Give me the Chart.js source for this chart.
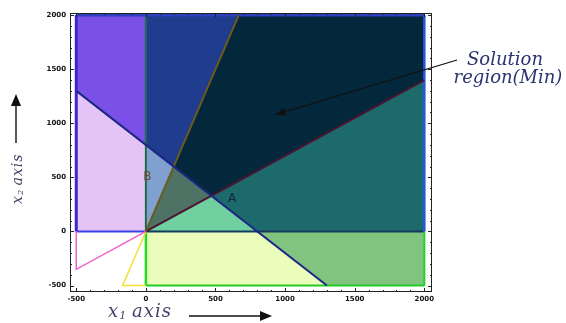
<!DOCTYPE html>
<html>
<head>
<meta charset="utf-8">
<script src="https://cdn.jsdelivr.net/npm/chart.js@4.4.1/dist/chart.umd.min.js"></script>
<style>
  html, body { margin: 0; padding: 0; background: #fff; }
  #wrap { width: 566px; height: 323px; }
</style>
</head>
<body>
<div id="wrap"><canvas id="chart" width="566" height="323"></canvas></div>
<script>
// ── Data ──────────────────────────────────────
const xTicks = [-500, 0, 500, 1000, 1500, 2000];
const yTicks = [-500, 0, 500, 1000, 1500, 2000];

// region polygons (x1, x2)
const regionPurple   = [[-500, 1300], [-500, 2000], [0, 2000], [0, 800]];
const regionLavender = [[-500, 0], [-500, 1300], [0, 800], [0, 0]];
const regionBlue     = [[0, 800], [0, 2000], [667, 2000], [200, 600]];
const regionSteel    = [[0, 0], [0, 800], [200, 600]];
const regionSolution = [[200, 600], [667, 2000], [2000, 2000], [2000, 1400], [470, 329]];
const regionGrey     = [[0, 0], [200, 600], [470, 329]];
const regionTeal     = [[470, 329], [2000, 1400], [2000, 0], [800, 0]];
const regionMint     = [[0, 0], [470, 329], [800, 0]];
const regionYellow   = [[0, 0], [800, 0], [1300, -500], [0, -500]];
const regionGreen    = [[800, 0], [2000, 0], [2000, -500], [1300, -500]];

// constraint lines
const lineSum    = [[-500, 1300], [1300, -500]];      // x1 + x2 = 800
const lineSteep  = [[0, 0], [667, 2000]];             // x2 = 3 x1
const lineFlat   = [[0, 0], [2000, 1400]];            // x2 = 0.7 x1
const linePink   = [[-500, 0], [-500, -350], [0, 0]];
const lineYellow = [[0, 0], [-167, -500], [0, -500]];

// boundary edges
const edgeTop      = [[-500, 2000], [2000, 2000]];
const edgeLeft     = [[-500, 0], [-500, 2000]];
const edgeRightUp  = [[2000, 0], [2000, 2000]];
const edgeRightLow = [[2000, -500], [2000, 0]];
const edgeAxisUp   = [[0, 0], [0, 2000]];
const edgeAxisLow  = [[0, -500], [0, 0]];
const edgeZeroL    = [[-500, 0], [0, 0]];
const edgeZeroR    = [[0, 0], [2000, 0]];
const edgeBottom   = [[0, -500], [2000, -500]];

const pointA = [620, 300];
const pointB = [10, 505];
const arrowTail = [2235, 1585];
const arrowTip  = [925, 1078];

// ── Helpers ───────────────────────────────────
const pts = arr => arr.map(p => ({ x: p[0], y: p[1] }));

function region(data, color) {
  return {
    data: pts(data.concat([data[0]])),
    showLine: true, fill: 'shape',
    backgroundColor: color, borderColor: color, borderWidth: 0.6,
    pointRadius: 0, clip: false
  };
}
function seg(data, color, width) {
  return {
    data: pts(data), showLine: true, fill: false,
    borderColor: color, borderWidth: width,
    pointRadius: 0, clip: false
  };
}

// draw "x<sub>n</sub> axis" as real text pieces
function axisTitle(ctx, sub, x0, y0, size) {
  const main = `italic ${size}px "DejaVu Serif"`;
  ctx.font = main;
  ctx.fillText('x', x0, y0);
  let cx = x0 + ctx.measureText('x').width + 1;
  ctx.font = `italic ${Math.round(size * 0.6)}px "DejaVu Serif"`;
  ctx.fillText(sub, cx, y0 + size * 0.22);
  cx += ctx.measureText(sub).width + size * 0.33;
  ctx.font = main;
  ctx.letterSpacing = '1px';
  ctx.fillText('axis', cx, y0);
  ctx.letterSpacing = '0px';
}

// ── Frame, ticks and labels ───────────────────
const framePlugin = {
  id: 'frame',
  afterDraw(chart) {
    const { ctx, chartArea: a, scales: { x, y } } = chart;
    ctx.save();
    ctx.strokeStyle = '#222';
    ctx.lineWidth = 1;
    ctx.strokeRect(a.left + 0.5, a.top + 0.5, a.right - a.left - 1, a.bottom - a.top - 1);

    ctx.beginPath();
    for (let v = -500; v <= 2000; v += 100) {
      const len = v % 500 === 0 ? 4 : 2;
      const px = Math.round(x.getPixelForValue(v)) + 0.5;
      ctx.moveTo(px, a.bottom); ctx.lineTo(px, a.bottom - len);
      ctx.moveTo(px, a.top); ctx.lineTo(px, a.top + len);
      const py = Math.round(y.getPixelForValue(v)) + 0.5;
      ctx.moveTo(a.left, py); ctx.lineTo(a.left + len, py);
      ctx.moveTo(a.right, py); ctx.lineTo(a.right - len, py);
    }
    ctx.stroke();

    ctx.fillStyle = '#111';
    ctx.font = 'bold 7px "DejaVu Sans"';
    ctx.textAlign = 'center';
    ctx.textBaseline = 'top';
    xTicks.forEach(v => ctx.fillText(String(v), x.getPixelForValue(v), a.bottom + 4));
    ctx.textAlign = 'right';
    ctx.textBaseline = 'middle';
    yTicks.forEach(v => ctx.fillText(String(v), a.left - 4, y.getPixelForValue(v)));

    // point labels
    ctx.font = '12px "DejaVu Sans"';
    ctx.textAlign = 'center';
    ctx.fillStyle = '#10263a';
    ctx.fillText('A', x.getPixelForValue(pointA[0]), y.getPixelForValue(pointA[1]));
    ctx.fillStyle = '#6a4a34';
    ctx.fillText('B', x.getPixelForValue(pointB[0]), y.getPixelForValue(pointB[1]));

    // annotation arrow
    const tx = x.getPixelForValue(arrowTail[0]), ty = y.getPixelForValue(arrowTail[1]);
    const hx = x.getPixelForValue(arrowTip[0]), hy = y.getPixelForValue(arrowTip[1]);
    const ang = Math.atan2(hy - ty, hx - tx);
    ctx.strokeStyle = '#111';
    ctx.lineWidth = 1.2;
    ctx.beginPath(); ctx.moveTo(tx, ty); ctx.lineTo(hx - 6 * Math.cos(ang), hy - 6 * Math.sin(ang)); ctx.stroke();
    ctx.fillStyle = '#111';
    ctx.beginPath();
    ctx.moveTo(hx, hy);
    ctx.lineTo(hx - 11 * Math.cos(ang) + 4 * Math.sin(ang), hy - 11 * Math.sin(ang) - 4 * Math.cos(ang));
    ctx.lineTo(hx - 11 * Math.cos(ang) - 4 * Math.sin(ang), hy - 11 * Math.sin(ang) + 4 * Math.cos(ang));
    ctx.closePath(); ctx.fill();

    // annotation text
    ctx.fillStyle = '#2a3470';
    ctx.font = 'italic 18px "DejaVu Serif"';
    ctx.textAlign = 'center';
    ctx.textBaseline = 'middle';
    ctx.fillText('Solution', 505, 60);
    ctx.fillText('region(Min)', 508, 78);

    // axis titles with arrows
    ctx.fillStyle = '#44446a';
    ctx.textAlign = 'left';
    ctx.textBaseline = 'middle';
    axisTitle(ctx, '1', 108, 312, 18);
    ctx.strokeStyle = '#111';
    ctx.lineWidth = 1.4;
    ctx.beginPath(); ctx.moveTo(189, 316); ctx.lineTo(262, 316); ctx.stroke();
    ctx.fillStyle = '#111';
    ctx.beginPath(); ctx.moveTo(272, 316); ctx.lineTo(260, 311); ctx.lineTo(260, 321); ctx.closePath(); ctx.fill();

    ctx.save();
    ctx.translate(18, 204);
    ctx.rotate(-Math.PI / 2);
    ctx.fillStyle = '#44446a';
    axisTitle(ctx, '2', 0, 0, 14);
    ctx.restore();
    ctx.strokeStyle = '#111';
    ctx.lineWidth = 1.4;
    ctx.beginPath(); ctx.moveTo(16, 143); ctx.lineTo(16, 104); ctx.stroke();
    ctx.fillStyle = '#111';
    ctx.beginPath(); ctx.moveTo(16, 94); ctx.lineTo(11, 106); ctx.lineTo(21, 106); ctx.closePath(); ctx.fill();
    ctx.restore();
  }
};

// ── Chart ─────────────────────────────────────
new Chart(document.getElementById('chart'), {
  type: 'scatter',
  data: {
    datasets: [
      seg(lineSum, '#1c2684', 2),
      seg(lineSteep, '#6a5a1c', 2),
      seg(lineFlat, '#4a1432', 2),
      seg(linePink, '#f060c8', 1.5),
      seg(lineYellow, '#f2e030', 1.5),
      seg(edgeTop, '#2c40c0', 2.5),
      seg(edgeLeft, '#3a28cc', 3),
      seg(edgeRightUp, '#2c56e0', 2.5),
      seg(edgeRightLow, '#22d030', 2),
      seg(edgeAxisUp, '#1c6a48', 2),
      seg(edgeAxisLow, '#22dd22', 2.5),
      seg(edgeZeroL, '#3c40e8', 2),
      seg(edgeZeroR, '#143a5c', 2),
      seg(edgeBottom, '#22cc22', 2),
      region(regionPurple, '#7b50e6'),
      region(regionLavender, '#e4c4f6'),
      region(regionBlue, '#1f3c8f'),
      region(regionSteel, '#80a0d0'),
      region(regionSolution, '#04283b'),
      region(regionGrey, '#4e7364'),
      region(regionTeal, '#1d6a6c'),
      region(regionMint, '#70cf9f'),
      region(regionYellow, '#eafdbb'),
      region(regionGreen, '#80c480')
    ]
  },
  options: {
    responsive: false,
    animation: false,
    layout: { padding: { left: 70, right: 134, top: 13, bottom: 31 } },
    plugins: { legend: { display: false }, tooltip: { enabled: false } },
    scales: {
      x: { type: 'linear', min: -545, max: 2055, display: false },
      y: { type: 'linear', min: -560, max: 2020, display: false }
    }
  },
  plugins: [framePlugin]
});
</script>
</body>
</html>
